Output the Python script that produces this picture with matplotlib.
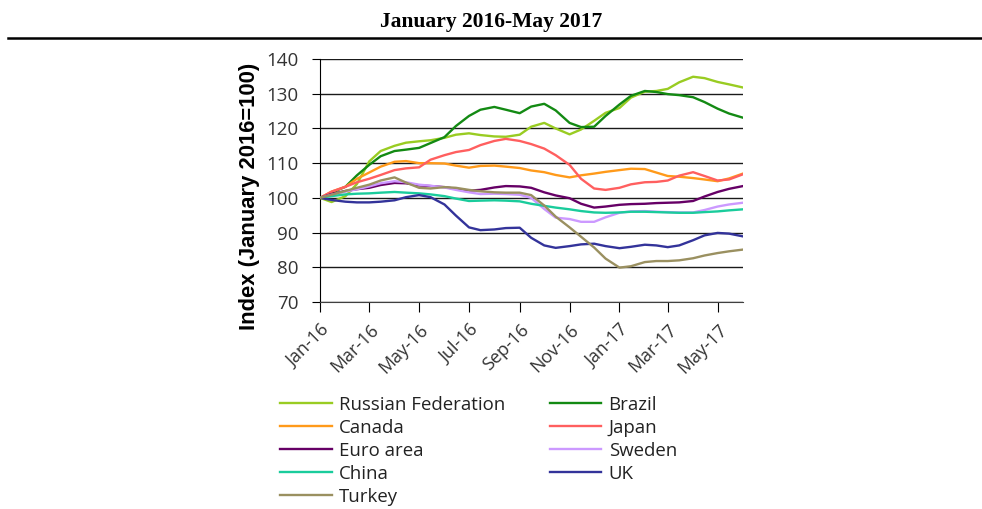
import pandas as pd
import matplotlib
matplotlib.use('Agg')
import matplotlib.pyplot as plt
import matplotlib.dates as mdates

# semi-monthly readings, Jan-16 .. Jun-17 (index, January 2016 = 100)
dates = pd.date_range('2016-01-01', '2017-06-01', freq='SMS')

russia = [100, 98.8, 100.5, 104.0, 110.5, 113.5, 115.0, 115.9, 116.3, 116.6, 117.3, 118.2,
          118.6, 118.1, 117.7, 117.6, 118.2, 120.5, 121.6, 120.0, 118.3, 119.7, 122.2, 124.5,
          125.9, 128.9, 130.6, 130.8, 131.4, 133.3, 134.9, 134.5, 133.4, 132.7, 131.8]
brazil = [100, 101.5, 103.2, 106.5, 109.5, 112.0, 113.5, 113.9, 114.4, 115.8, 117.5, 120.7,
          123.6, 125.4, 126.2, 125.4, 124.4, 126.3, 127.1, 125.2, 121.6, 120.4, 120.5, 123.6,
          126.9, 129.4, 130.8, 130.5, 129.9, 129.6, 129.0, 127.6, 125.7, 124.3, 123.1]
canada = [100, 101.8, 103.2, 105.5, 107.3, 109.0, 110.4, 110.6, 110.0, 110.0, 109.9, 109.3,
          108.7, 109.2, 109.3, 109.0, 108.6, 107.9, 107.4, 106.6, 105.9, 106.5, 107.0, 107.5,
          108.0, 108.4, 108.3, 107.3, 106.3, 106.1, 105.7, 105.3, 104.8, 105.6, 107.0]
japan = [100, 101.8, 103.2, 104.5, 105.5, 106.6, 108.0, 108.5, 108.8, 111.0, 112.3, 113.2,
         113.8, 115.2, 116.4, 117.0, 116.4, 115.5, 114.2, 112.3, 109.5, 105.5, 102.7, 102.3,
         102.9, 103.9, 104.5, 104.6, 105.0, 106.4, 107.4, 106.3, 105.0, 105.3, 106.8]
euro = [100, 101.1, 102.0, 102.5, 102.9, 103.7, 104.3, 104.2, 103.6, 103.4, 103.1, 102.6,
        102.1, 102.3, 103.0, 103.4, 103.3, 102.9, 101.6, 100.7, 99.9, 98.3, 97.2, 97.5,
        98.0, 98.2, 98.3, 98.5, 98.6, 98.7, 99.1, 100.4, 101.7, 102.6, 103.4]
sweden = [100, 100.9, 101.8, 102.5, 103.3, 104.2, 104.8, 104.5, 103.8, 103.5, 103.0, 102.3,
          101.6, 101.1, 101.2, 101.1, 100.9, 100.0, 96.8, 94.3, 93.9, 93.1, 93.1, 94.4,
          95.7, 96.1, 96.2, 96.0, 95.9, 95.8, 95.8, 96.5, 97.5, 98.1, 98.6]
china = [100, 100.5, 101.0, 101.2, 101.3, 101.5, 101.7, 101.5, 101.3, 101.0, 100.5, 99.8,
         99.1, 99.2, 99.3, 99.2, 99.0, 98.3, 97.7, 97.2, 96.7, 96.2, 95.8, 95.7,
         95.8, 96.0, 96.0, 95.9, 95.8, 95.7, 95.7, 95.9, 96.1, 96.4, 96.7]
uk = [100, 99.4, 98.9, 98.7, 98.7, 98.9, 99.3, 100.2, 100.8, 100.2, 98.1, 94.9,
      91.5, 90.7, 90.9, 91.3, 91.4, 88.5, 86.3, 85.6, 86.1, 86.6, 86.8, 86.1,
      85.5, 85.9, 86.5, 86.3, 85.8, 86.3, 87.8, 89.2, 89.9, 89.7, 88.9]
turkey = [100, 100.9, 102.0, 102.9, 103.8, 105.0, 105.9, 104.4, 102.9, 102.7, 103.1, 102.9,
          102.3, 101.9, 101.6, 101.5, 101.5, 100.8, 97.8, 94.6, 91.5, 88.8, 85.7, 82.5,
          79.9, 80.3, 81.5, 81.8, 81.8, 82.0, 82.6, 83.4, 84.1, 84.6, 85.1]

series = [
    ('Russian Federation', russia, '#99CC22'),
    ('Brazil', brazil, '#138A13'),
    ('Canada', canada, '#FF9A1A'),
    ('Japan', japan, '#FF5F5F'),
    ('Euro area', euro, '#660066'),
    ('Sweden', sweden, '#CC99FF'),
    ('China', china, '#1ACC9C'),
    ('UK', uk, '#33339A'),
    ('Turkey', turkey, '#9A9060'),
]

sans = ['Open Sans', 'DejaVu Sans']

fig = plt.figure(figsize=(9.82, 5.09), dpi=100)
ax = fig.add_axes([0.326, 0.4067, 0.4306, 0.4773])

lines = {}
for name, vals, col in series:
    lines[name], = ax.plot(dates, vals, color=col, lw=1.7, label=name, zorder=3)

ax.set_ylim(70, 140)
ax.set_yticks(range(70, 141, 10))
ax.set_xlim(pd.Timestamp('2016-01-01'), pd.Timestamp('2017-06-01'))
ax.xaxis.set_major_locator(mdates.MonthLocator(bymonth=[1, 3, 5, 7, 9, 11]))
ax.xaxis.set_major_formatter(mdates.DateFormatter('%b-%y'))
ax.grid(axis='y', color='#1a1a1a', lw=1.0, zorder=1)
for s in ['top', 'right']:
    ax.spines[s].set_visible(False)
ax.spines['left'].set_color('black')
ax.spines['bottom'].set_color('#404040')
ax.tick_params(axis='y', direction='out', length=6, pad=9.5, color='black',
               labelcolor='#333333', labelsize=13.5)
ax.tick_params(axis='x', direction='out', length=7, pad=6.5, color='black',
               labelcolor='#333333', labelsize=13)
for lab in ax.get_yticklabels():
    lab.set_family(sans)
for lab in ax.get_xticklabels():
    lab.set_family(sans)
    lab.set_rotation(45)
    lab.set_ha('right')
    lab.set_va('top')
    lab.set_rotation_mode('anchor')

ax.set_ylabel('Index (January 2016=100)', family=['Liberation Sans'],
              fontweight='bold', fontsize=15.8)
ax.yaxis.set_label_coords(-0.143, 0.435)

fig.text(0.5, 0.957, 'January 2016-May 2017', ha='center', va='center',
         family=['Liberation Serif'], fontweight='bold', fontsize=15.5)
fig.add_artist(plt.Line2D([0.008, 1.0], [0.925, 0.925], color='black', lw=1.8,
                          transform=fig.transFigure))

order = ['Russian Federation', 'Canada', 'Euro area', 'China', 'Turkey',
         'Brazil', 'Japan', 'Sweden', 'UK']
leg = fig.legend([lines[n] for n in order], order, loc='upper left',
                 bbox_to_anchor=(0.278, 0.237), ncol=2, frameon=False,
                 prop={'family': sans, 'size': 13.4}, handlelength=2.75,
                 handletextpad=0.4, labelspacing=0.27, columnspacing=2.4,
                 borderaxespad=0)
for t in leg.get_texts():
    t.set_color('#222222')

fig.savefig('out.png', dpi=100)
